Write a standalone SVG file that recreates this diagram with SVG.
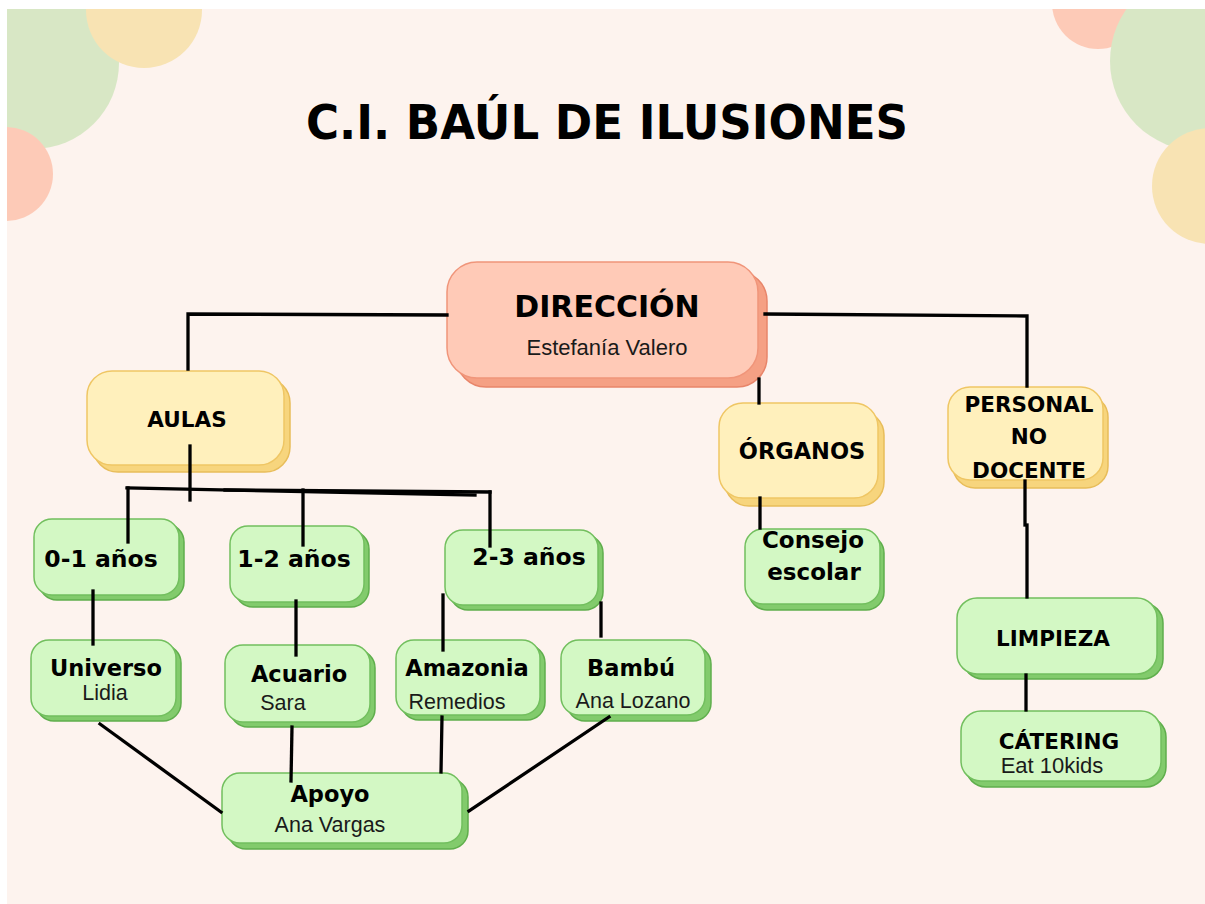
<svg xmlns="http://www.w3.org/2000/svg" width="1205" height="904" viewBox="0 0 1205 904">
<style>
.bg{fill:#fdf3ee}
.sf{fill:#ffcab7;stroke:#f0957a;stroke-width:1.5}
.ss{fill:#f5a084;stroke:#e8856a;stroke-width:1.5}
.yf{fill:#fff0bc;stroke:#efc664;stroke-width:1.5}
.ys{fill:#f7d57d;stroke:#e8bd5a;stroke-width:1.5}
.gf{fill:#d3f8c4;stroke:#72bf5e;stroke-width:1.5}
.gs{fill:#82cb6c;stroke:#5fae4c;stroke-width:1.5}
.t{font-family:"DejaVu Sans",sans-serif;font-weight:bold;fill:#000;text-anchor:middle}
.s{font-family:"Liberation Sans",Arial,sans-serif;fill:#1a1a1a;text-anchor:middle}
.c line,.c polyline{stroke:#000;stroke-width:3.3;fill:none;stroke-linecap:square}
</style>
<rect width="1205" height="904" fill="#ffffff"/>
<svg x="7" y="9" width="1198" height="895" viewBox="7 9 1198 895">
<rect class="bg" x="7" y="9" width="1198" height="895"/>
<g id="decor" opacity="0.7">
<circle cx="33" cy="63" r="86" fill="#c9e3b5"/>
<circle cx="144" cy="10" r="58" fill="#f6dd9b"/>
<circle cx="6" cy="174" r="47" fill="#febaa1"/>
<circle cx="1098" cy="3" r="46" fill="#febaa1"/>
<circle cx="1200" cy="61" r="90" fill="#c9e3b5"/>
<circle cx="1210" cy="186" r="58" fill="#f6dd9b"/>
</g>
</svg>
<text id="title" class="t" x="607" y="139" font-size="48" textLength="602" lengthAdjust="spacingAndGlyphs">C.I. BAÚL DE ILUSIONES</text>

<g id="direccion">
<rect class="ss" x="456" y="271" width="311" height="116" rx="30"/>
<rect class="sf" x="447" y="262" width="311" height="116" rx="30"/>
<text class="t" x="607" y="317" font-size="30">DIRECCIÓN</text>
<text class="s" x="607" y="355" font-size="22">Estefanía Valero</text>
</g>
<g id="aulas">
<rect class="ys" x="93" y="378" width="197" height="94" rx="25"/>
<rect class="yf" x="87" y="371" width="197" height="94" rx="25"/>
<text class="t" x="187" y="427" font-size="21.5">AULAS</text>
</g>
<g id="organos">
<rect class="ys" x="725" y="411" width="159" height="95" rx="24"/>
<rect class="yf" x="719" y="403" width="159" height="95" rx="24"/>
<text class="t" x="802" y="459" font-size="22.5">ÓRGANOS</text>
</g>
<g id="personal">
<rect class="ys" x="953" y="395" width="155" height="93" rx="22"/>
<rect class="yf" x="948" y="387" width="155" height="93" rx="22"/>
<text class="t" x="1029" y="412" font-size="21.5">PERSONAL</text>
<text class="t" x="1029" y="444" font-size="21.5">NO</text>
<text class="t" x="1029" y="478" font-size="21.5">DOCENTE</text>
</g>
<g id="anos01">
<rect class="gs" x="39" y="524" width="145" height="76" rx="18"/>
<rect class="gf" x="34" y="519" width="145" height="76" rx="18"/>
<text class="t" x="101" y="567" font-size="23.5">0-1 años</text>
</g>
<g id="anos12">
<rect class="gs" x="235" y="531" width="134" height="76" rx="18"/>
<rect class="gf" x="230" y="526" width="134" height="76" rx="18"/>
<text class="t" x="294" y="567" font-size="23.5">1-2 años</text>
</g>
<g id="anos23">
<rect class="gs" x="450" y="535" width="153" height="75" rx="18"/>
<rect class="gf" x="445" y="530" width="153" height="75" rx="18"/>
<text class="t" x="529" y="565" font-size="23.5">2-3 años</text>
</g>
<g id="consejo">
<rect class="gs" x="749" y="535" width="135" height="75" rx="18"/>
<rect class="gf" x="745" y="529" width="135" height="75" rx="18"/>
<text class="t" x="813" y="548" font-size="23">Consejo</text>
<text class="t" x="814" y="580" font-size="23">escolar</text>
</g>
<g id="universo">
<rect class="gs" x="36" y="645" width="145" height="76" rx="18"/>
<rect class="gf" x="31" y="640" width="145" height="76" rx="18"/>
<text class="t" x="106" y="676" font-size="22.5">Universo</text>
<text class="s" x="105" y="700" font-size="21.5">Lidia</text>
</g>
<g id="acuario">
<rect class="gs" x="230" y="650" width="145" height="77" rx="18"/>
<rect class="gf" x="225" y="645" width="145" height="77" rx="18"/>
<text class="t" x="299" y="682" font-size="22.5">Acuario</text>
<text class="s" x="283" y="710" font-size="21.5">Sara</text>
</g>
<g id="amazonia">
<rect class="gs" x="401" y="645" width="144" height="75" rx="18"/>
<rect class="gf" x="396" y="640" width="144" height="75" rx="18"/>
<text class="t" x="467" y="676" font-size="22.5">Amazonia</text>
<text class="s" x="457" y="709" font-size="21.5">Remedios</text>
</g>
<g id="bambu">
<rect class="gs" x="567" y="646" width="144" height="75" rx="18"/>
<rect class="gf" x="561" y="640" width="144" height="75" rx="18"/>
<text class="t" x="631" y="676" font-size="22.5">Bambú</text>
<text class="s" x="633" y="708" font-size="21.5">Ana Lozano</text>
</g>
<g id="apoyo">
<rect class="gs" x="228" y="779" width="240" height="70" rx="18"/>
<rect class="gf" x="222" y="773" width="240" height="70" rx="18"/>
<text class="t" x="330" y="802" font-size="22.5">Apoyo</text>
<text class="s" x="330" y="832" font-size="21.5">Ana Vargas</text>
</g>
<g id="limpieza">
<rect class="gs" x="963" y="603" width="200" height="76" rx="20"/>
<rect class="gf" x="957" y="598" width="200" height="76" rx="20"/>
<text class="t" x="1053" y="646" font-size="21.5">LIMPIEZA</text>
</g>
<g id="catering">
<rect class="gs" x="966" y="717" width="200" height="70" rx="20"/>
<rect class="gf" x="961" y="711" width="200" height="70" rx="20"/>
<text class="t" x="1059" y="749" font-size="21.5">CÁTERING</text>
<text class="s" x="1052" y="773" font-size="22">Eat 10kids</text>
</g>

<g id="connectors" class="c">
<polyline points="447,315 188,314 188,369"/>
<polyline points="765,314 1027,316 1027,386"/>
<line x1="759" y1="379" x2="759" y2="403"/>
<line x1="190" y1="446" x2="190" y2="500"/>
<line x1="127" y1="488" x2="475" y2="495"/>
<line x1="225" y1="490" x2="490" y2="492"/>
<line x1="128" y1="488" x2="128" y2="542"/>
<line x1="303" y1="490" x2="303" y2="545"/>
<line x1="490" y1="492" x2="490" y2="546"/>
<line x1="760" y1="498" x2="760" y2="528"/>
<line x1="1025" y1="481" x2="1025" y2="525"/>
<line x1="1027" y1="525" x2="1027" y2="597"/>
<line x1="1026" y1="675" x2="1026" y2="710"/>
<line x1="93" y1="591" x2="93" y2="644"/>
<line x1="296" y1="601" x2="296" y2="655"/>
<line x1="443" y1="595" x2="443" y2="650"/>
<line x1="601" y1="603" x2="601" y2="636"/>
<line x1="100" y1="724" x2="221" y2="812"/>
<line x1="292" y1="727" x2="291" y2="781"/>
<line x1="442" y1="717" x2="441" y2="772"/>
<line x1="609" y1="717" x2="469" y2="811"/>
</g>
</svg>
